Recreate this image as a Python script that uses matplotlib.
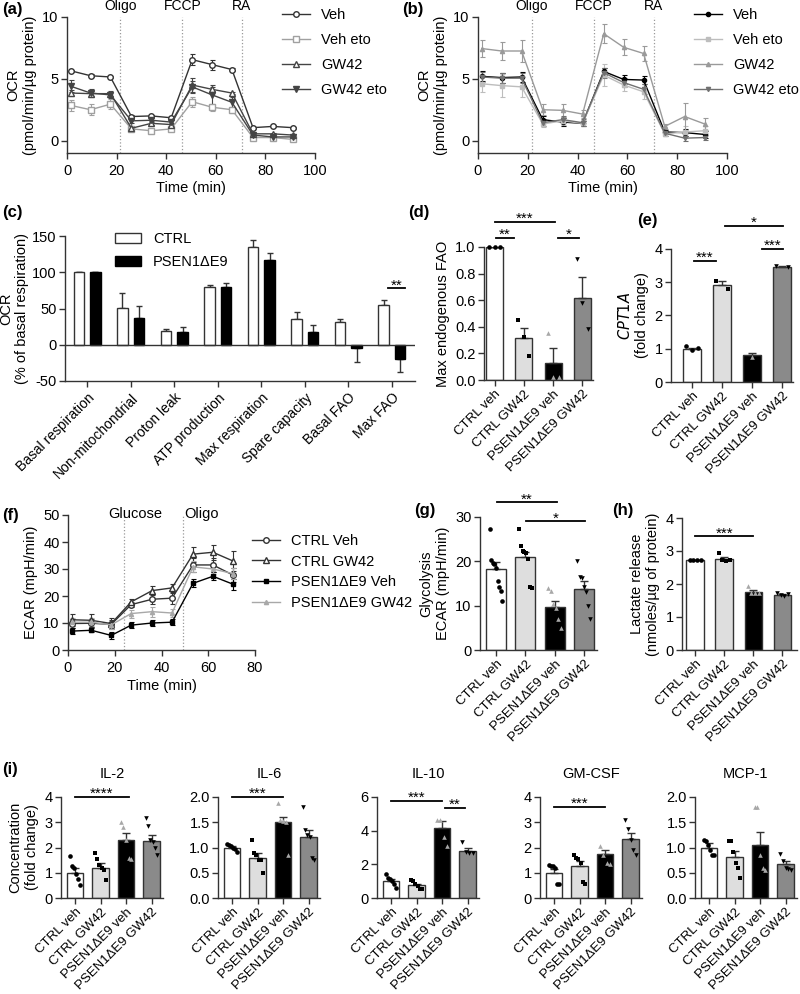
import numpy as np
import matplotlib
matplotlib.use("Agg")
import matplotlib.pyplot as plt
from matplotlib.patches import Patch
from matplotlib.ticker import FormatStrFormatter

plt.rcParams['font.family'] = ['Liberation Sans', 'DejaVu Sans']
plt.rcParams['font.size'] = 10
plt.rcParams['axes.unicode_minus'] = False

# ---------------- data ----------------
# (a) OCR, Seahorse time course
t_ocr = [1.5, 9.5, 17.5, 26, 34, 42, 50.5, 58.5, 66.5, 75, 83, 91]
a_names = ["Veh", "Veh eto", "GW42", "GW42 eto"]
a_mean = [
    [5.65, 5.25, 5.15, 1.95, 2.0, 1.85, 6.55, 6.15, 5.75, 1.05, 1.15, 1.05],
    [2.85, 2.5, 2.95, 0.95, 0.8, 0.95, 3.15, 2.7, 2.5, 0.25, 0.25, 0.1],
    [3.85, 3.8, 3.8, 1.0, 1.4, 1.3, 4.5, 4.15, 3.85, 0.55, 0.55, 0.45],
    [4.4, 3.85, 3.7, 1.6, 1.65, 1.5, 4.35, 3.7, 3.1, 0.45, 0.3, 0.3],
]
a_err = [
    [0.1, 0.1, 0.1, 0.1, 0.1, 0.1, 0.45, 0.4, 0.15, 0.08, 0.08, 0.08],
    [0.45, 0.45, 0.4, 0.1, 0.12, 0.12, 0.4, 0.3, 0.25, 0.08, 0.08, 0.08],
    [0.25, 0.2, 0.2, 0.1, 0.15, 0.15, 0.55, 0.15, 0.1, 0.1, 0.1, 0.1],
    [0.5, 0.3, 0.25, 0.15, 0.15, 0.15, 0.5, 0.8, 0.4, 0.1, 0.1, 0.1],
]
# (b)
b_mean = [
    [5.2, 5.1, 5.15, 1.7, 1.5, 1.4, 5.6, 4.95, 4.9, 0.7, 0.65, 0.5],
    [4.6, 4.45, 4.35, 1.35, 1.6, 1.4, 5.3, 4.5, 3.95, 0.55, 0.7, 0.8],
    [7.45, 7.25, 7.25, 2.5, 2.45, 2.15, 8.65, 7.55, 7.05, 1.15, 1.95, 1.35],
    [5.15, 5.05, 5.05, 1.45, 1.7, 1.45, 5.5, 4.7, 4.15, 0.6, 0.2, 0.25],
]
b_err = [
    [0.4, 0.4, 0.4, 0.3, 0.3, 0.2, 0.3, 0.35, 0.35, 0.2, 0.3, 0.3],
    [0.7, 0.9, 0.8, 0.25, 0.3, 0.25, 0.9, 0.5, 0.6, 0.15, 0.5, 0.4],
    [0.7, 0.75, 0.85, 0.45, 0.55, 0.3, 0.75, 0.65, 0.6, 0.2, 1.1, 0.5],
    [0.4, 0.4, 0.4, 0.3, 0.3, 0.3, 0.4, 0.4, 0.4, 0.2, 0.2, 0.2],
]
ocr_inj = [21.5, 46.5, 70.5]
ocr_inj_lbl = ["Oligo", "FCCP", "RA"]

# (c) OCR parameters
c_cats = ["Basal respiration", "Non-mitochondrial", "Proton leak", "ATP production",
          "Max respiration", "Spare capacity", "Basal FAO", "Max FAO"]
c_ctrl = [100, 51, 19, 80, 135, 35, 31, 55]
c_ctrl_err = [0, 21, 3, 3, 10, 10, 4, 7]
c_psen = [100, 37, 18, 80, 117, 17, -4, -20]
c_psen_err = [0, 16, 6, 5, 10, 10, 20, 18]

groups = ["CTRL veh", "CTRL GW42", "PSEN1ΔE9 veh", "PSEN1ΔE9 GW42"]

# (d) max endogenous FAO
d_mean = [1.0, 0.315, 0.13, 0.62]
d_err = [0.0, 0.075, 0.11, 0.155]
d_pts = [[1.0, 1.0, 1.0], [0.45, 0.32, 0.18], [0.35, 0.02, 0.02], [0.91, 0.58, 0.38]]

# (e) CPT1A
e_mean = [1.0, 2.92, 0.82, 3.47]
e_err = [0.03, 0.12, 0.06, 0.03]
e_pts = [[1.07, 0.95, 1.02], [3.05, 2.8], [0.75], [3.5, 3.46]]

# (f) ECAR time course
t_ecar = [1.5, 10, 18.5, 27, 36, 44.5, 53.5, 62, 70.5]
f_names = ["CTRL Veh", "CTRL GW42", "PSEN1ΔE9 Veh", "PSEN1ΔE9 GW42"]
f_mean = [
    [9.8, 9.9, 9.5, 16.8, 18.8, 19.2, 31.5, 31.5, 27.8],
    [11.2, 11.0, 9.8, 17.8, 22.0, 23.0, 35.5, 36.2, 33.0],
    [7.0, 7.3, 5.4, 9.2, 10.0, 10.3, 24.7, 27.3, 24.4],
    [10.3, 10.3, 9.3, 13.5, 14.2, 13.7, 30.8, 30.0, 28.3],
]
f_err = [
    [1.5, 1.5, 1.5, 1.0, 1.8, 2.0, 2.5, 2.5, 2.5],
    [2.3, 2.3, 2.0, 1.2, 1.8, 1.5, 2.8, 2.8, 3.8],
    [1.0, 0.8, 1.2, 1.0, 1.0, 1.2, 1.5, 1.5, 2.0],
    [1.5, 1.5, 1.5, 1.5, 1.8, 1.5, 2.0, 2.0, 2.0],
]
ecar_inj = [24, 49]

# (g) glycolysis
g_mean = [18.2, 20.9, 9.8, 13.8]
g_err = [1.6, 1.3, 1.2, 1.7]
g_pts = [[27.3, 20.4, 19.7, 19.4, 18.4, 15.5, 14.2, 13.3, 11.0],
         [27.3, 23.5, 22.3, 22.0, 21.8, 20.5, 14.3, 14.0],
         [14.0, 13.3, 10.3, 9.5, 7.0, 5.0],
         [20.0, 16.5, 16.2, 14.3, 13.0, 10.0, 7.0]]

# (h) lactate release
h_mean = [2.73, 2.75, 1.77, 1.68]
h_err = [0.01, 0.07, 0.06, 0.03]
h_pts = [[2.73, 2.73, 2.73, 2.73], [2.95, 2.73, 2.7, 2.72],
         [1.93, 1.73, 1.72, 1.72], [1.72, 1.68, 1.65, 1.7]]

# (i) cytokines
cyto = ["IL-2", "IL-6", "IL-10", "GM-CSF", "MCP-1"]
i_mean = [[1.0, 1.2, 2.3, 2.27], [1.0, 0.8, 1.5, 1.2], [1.0, 0.75, 4.15, 2.78],
          [1.0, 1.25, 1.75, 2.32], [1.0, 0.81, 1.05, 0.67]]
i_err = [[0.17, 0.17, 0.27, 0.22], [0.03, 0.09, 0.11, 0.15], [0.15, 0.1, 0.45, 0.2],
         [0.15, 0.22, 0.15, 0.25], [0.08, 0.12, 0.25, 0.07]]
i_pts = [
    [[1.65, 1.25, 1.2, 0.95, 0.75, 0.52], [1.8, 1.55, 1.3, 1.2, 1.1, 0.7],
     [3.0, 2.8, 2.3, 1.6, 1.55], [3.15, 2.85, 2.3, 2.2, 2.0, 1.7]],
    [[1.07, 1.05, 1.03, 1.0, 0.97, 0.92], [1.15, 0.9, 0.85, 0.75, 0.75, 0.5],
     [1.88, 1.55, 1.52, 1.5, 0.85], [1.8, 1.35, 1.25, 1.2, 0.8, 0.75]],
    [[1.4, 1.2, 1.1, 1.0, 0.85, 0.6], [1.05, 1.0, 0.85, 0.7, 0.55, 0.55],
     [4.65, 4.65, 3.6, 3.1], [3.35, 2.75, 2.7, 2.7]],
    [[1.3, 1.25, 1.25, 1.2, 0.55, 0.55], [1.7, 1.6, 1.55, 1.4, 0.65, 0.55],
     [2.05, 1.7, 1.4, 1.35], [3.1, 2.75, 2.3, 1.9, 1.7]],
    [[1.15, 1.12, 1.05, 0.95, 0.85, 0.85], [1.12, 1.12, 0.92, 0.7, 0.6, 0.4],
     [1.8, 1.8, 0.85, 0.6, 0.55], [0.88, 0.73, 0.6, 0.58, 0.55]],
]
i_ylim = [4, 2.0, 6, 4, 2.0]
i_ticks = [[0, 1, 2, 3, 4], [0, 0.5, 1.0, 1.5, 2.0], [0, 2, 4, 6], [0, 1, 2, 3, 4], [0, 0.5, 1.0, 1.5, 2.0]]
i_sigs = [[(0, 2.1, 4.0, "****")], [(0, 2, 2.0, "***")],
          [(0, 2, 5.78, "***"), (2.1, 2.9, 5.35, "**")], [(0, 2, 3.6, "***")], []]

# ---------------- style ----------------
W, H = 800, 994
fig = plt.figure(figsize=(W / 100, H / 100), dpi=100)
INK = "#333333"
bar_fc = ["white", "#dedede", "black", "#8a8a8a"]
pt_mk = ["o", "s", "^", "v"]
pt_c = ["black", "black", "#a8a8a8", "black"]


def box(l, t, r, b):
    ax = fig.add_axes([l / W, 1 - b / H, (r - l) / W, (b - t) / H])
    ax.spines[["top", "right"]].set_visible(False)
    for s in ["left", "bottom"]:
        ax.spines[s].set_color(INK)
        ax.spines[s].set_linewidth(1)
    ax.tick_params(color=INK, length=4, width=1, labelsize=10.5, pad=2)
    return ax


def panel_label(x, y, s):
    fig.text(x / W, 1 - y / H, s, fontsize=12, fontweight="bold", va="top")


def sig(ax, x1, x2, y, stars):
    ax.plot([x1, x2], [y, y], color="black", lw=1.3, clip_on=False)
    ax.annotate(stars, ((x1 + x2) / 2, y), xytext=(0, -3), textcoords="offset points",
                ha="center", va="bottom", fontsize=11, annotation_clip=False)


def spread(n, w):
    return np.linspace(-w, w, n) if n > 1 else np.zeros(1)


def bar_panel(ax, means, errs, pts, xlim, width, sigs=()):
    x = np.arange(len(means))
    ax.bar(x, means, width, color=bar_fc, edgecolor=INK, linewidth=1, zorder=2)
    ax.errorbar(x, means, yerr=[np.zeros(len(errs)), errs], fmt="none", ecolor=INK,
                elinewidth=1, capsize=3, capthick=1, zorder=3)
    for i, vals in enumerate(pts):
        ax.scatter(i + spread(len(vals), width * 0.32), vals, marker=pt_mk[i], s=11,
                   color=pt_c[i], zorder=4, clip_on=False, linewidths=0)
    ax.set_xlim(*xlim)
    ax.set_xticks(x)
    ax.set_xticklabels(groups, rotation=45, ha="right", rotation_mode="anchor", fontsize=9.5)
    ax.tick_params(axis="x", pad=2)
    for x1, x2, y, s in sigs:
        sig(ax, x1, x2, y, s)


def time_panel(ax, t, means, errs, styles):
    hs = []
    for m, e, (mk, c, mfc, ms) in zip(means, errs, styles):
        h = ax.errorbar(t, m, yerr=e, marker=mk, color=c, mfc=mfc, mec=c, ms=ms, lw=1,
                        elinewidth=0.8, capsize=1.8, capthick=0.8)
        hs.append(h[0])  # line + marker only, for the legend
    ax.tick_params(axis="x", pad=4)
    return hs


def time_legend(ax, hs, names, x, y, spacing):
    ax.legend(hs, names, loc="upper left", bbox_to_anchor=(x / W, 1 - y / H),
              bbox_transform=fig.transFigure, frameon=False, fontsize=10.5,
              labelspacing=spacing, handlelength=1.9, borderpad=0, borderaxespad=0)


# (a)
ax = box(67, 17, 315, 153)
a_sty = [("o", "#333333", "white", 4), ("s", "#a0a0a0", "white", 4),
         ("^", "#444444", "white", 4), ("v", "#444444", "#444444", 4)]
hs = time_panel(ax, t_ocr, a_mean, a_err, a_sty)
for x, s in zip(ocr_inj, ocr_inj_lbl):
    ax.axvline(x, ls=":", color="#999999", lw=0.9)
    ax.text(x, 10.55, s, ha="center", va="baseline", fontsize=10)
ax.set_xlim(0, 100)
ax.set_ylim(-1, 10)
ax.set_yticks([0, 5, 10])
ax.set_xlabel("Time (min)", fontsize=10.5, labelpad=2)
ax.set_ylabel("OCR\n(pmol/min/µg protein)", fontsize=10.5)
time_legend(ax, hs, a_names, 282, 8, 0.75)
panel_label(2, 2, "(a)")

# (b)
ax = box(478, 17, 727, 153)
b_sty = [("o", "black", "black", 3), ("s", "#bdbdbd", "#bdbdbd", 3),
         ("^", "#9a9a9a", "#9a9a9a", 3), ("v", "#707070", "#707070", 3)]
hs = time_panel(ax, t_ocr, b_mean, b_err, b_sty)
for x, s in zip(ocr_inj, ocr_inj_lbl):
    ax.axvline(x, ls=":", color="#999999", lw=0.9)
    ax.text(x, 10.55, s, ha="center", va="baseline", fontsize=10)
ax.set_xlim(0, 100)
ax.set_ylim(-1, 10)
ax.set_yticks([0, 5, 10])
ax.set_xlabel("Time (min)", fontsize=10.5, labelpad=2)
ax.set_ylabel("OCR\n(pmol/min/µg protein)", fontsize=10.5)
time_legend(ax, hs, a_names, 694, 8, 0.75)
panel_label(402, 2, "(b)")

# (c)
ax = box(65, 236, 415, 381)
xc = np.arange(len(c_cats))
ax.bar(xc - 0.19, c_ctrl, 0.24, color="white", edgecolor=INK, lw=1, zorder=2)
ax.bar(xc + 0.19, c_psen, 0.24, color="black", edgecolor="black", lw=1, zorder=2)
ax.errorbar(xc - 0.19, c_ctrl, yerr=[np.zeros(8), c_ctrl_err], fmt="none", ecolor=INK,
            elinewidth=1, capsize=2.5, zorder=1)
pn = np.array(c_psen)
pe = np.array(c_psen_err)
ax.errorbar(xc + 0.19, c_psen, yerr=[np.where(pn < 0, pe, 0), np.where(pn >= 0, pe, 0)],
            fmt="none", ecolor=INK, elinewidth=1, capsize=2.5, zorder=1)
ax.axhline(0, color=INK, lw=1, zorder=3)
ax.set_xlim(-0.51, 7.53)
ax.set_ylim(-50, 150)
ax.set_yticks([-50, 0, 50, 100, 150])
ax.set_xticks(xc)
ax.set_xticklabels(c_cats, rotation=45, ha="right", rotation_mode="anchor", fontsize=10)
ax.tick_params(axis="x", pad=3)
ax.set_ylabel("OCR\n(% of basal respiration)", fontsize=10.5, labelpad=2)
sig(ax, 6.9, 7.3, 78, "**")
ax.legend([Patch(fc="white", ec=INK), Patch(fc="black", ec="black")], ["CTRL", "PSEN1ΔE9"],
          loc="upper left", bbox_to_anchor=(115 / W, 1 - 232 / H), bbox_transform=fig.transFigure,
          frameon=False, fontsize=10.5, handlelength=1.8, handleheight=0.7, labelspacing=0.6,
          borderpad=0, borderaxespad=0)
panel_label(2, 205, "(c)")

# (d)
ax = box(484, 247, 593, 380)
bar_panel(ax, d_mean, d_err, d_pts, (-0.36, 3.36), 0.58,
          [(0.05, 0.65, 1.07, "**"), (0.03, 2.05, 1.19, "***"), (2.17, 2.88, 1.07, "*")])
ax.set_ylim(0, 1.0)
ax.set_yticks([0, 0.2, 0.4, 0.6, 0.8, 1.0])
ax.yaxis.set_major_formatter(FormatStrFormatter("%.1f"))
ax.set_ylabel("Max endogenous FAO", fontsize=10.5)
panel_label(408, 205, "(d)")

# (e)
ax = box(671, 249, 793, 382)
bar_panel(ax, e_mean, e_err, e_pts, (-0.7, 3.37), 0.6,
          [(0.07, 0.8, 3.64, "***"), (2.33, 3.03, 4.0, "***"), (1.1, 3.03, 4.7, "*")])
ax.set_ylim(0, 4)
ax.set_yticks([0, 1, 2, 3, 4])
ax.set_ylabel("$\\it{CPT1A}$\n(fold change)", fontsize=10.5)
panel_label(637, 213, "(e)")

# (f)
ax = box(68, 515, 255, 650)
f_sty = [("o", "#333333", "white", 4), ("^", "#333333", "white", 4),
         ("s", "black", "black", 3.5), ("^", "#a8a8a8", "#a8a8a8", 3)]
hs = time_panel(ax, t_ecar, f_mean, f_err, f_sty)
for x in ecar_inj:
    ax.axvline(x, ls=":", color="#999999", lw=0.9)
ax.text(28.6, 50.5, "Glucose", ha="center", va="center", fontsize=10.5)
ax.text(57, 50.5, "Oligo", ha="center", va="center", fontsize=10.5)
ax.set_xlim(0, 80)
ax.set_ylim(0, 50)
ax.set_yticks([0, 10, 20, 30, 40, 50])
ax.set_xlabel("Time (min)", fontsize=10.5, labelpad=3)
ax.set_ylabel("ECAR (mpH/min)", fontsize=10.5)
time_legend(ax, hs, f_names, 252, 534, 0.45)
panel_label(2, 508, "(f)")

# (g)
ax = box(480, 517, 597, 650)
bar_panel(ax, g_mean, g_err, g_pts, (-0.55, 3.45), 0.68,
          [(0.03, 2.07, 33.3, "**"), (1.03, 3.04, 29, "*")])
ax.set_ylim(0, 30)
ax.set_yticks([0, 10, 20, 30])
ax.set_ylabel("Glycolysis\nECAR (mpH/min)", fontsize=10.5)
panel_label(414, 503, "(g)")

# (h)
ax = box(682, 518, 797, 650)
bar_panel(ax, h_mean, h_err, h_pts, (-0.45, 3.5), 0.6, [(0, 2, 3.45, "***")])
ax.set_ylim(0, 4)
ax.set_yticks([0, 1, 2, 3, 4])
ax.set_ylabel("Lactate release\n(nmoles/µg of protein)", fontsize=10.5)
panel_label(612, 503, "(h)")

# (i)
i_left = [61, 218, 377, 540, 695]
for k, name in enumerate(cyto):
    ax = box(i_left[k], 797, i_left[k] + 102, 898)
    bar_panel(ax, i_mean[k], i_err[k], i_pts[k], (-0.55, 3.45), 0.66, i_sigs[k])
    ax.set_ylim(0, i_ylim[k])
    ax.set_yticks(i_ticks[k])
    if i_ylim[k] == 2.0:
        ax.yaxis.set_major_formatter(FormatStrFormatter("%.1f"))
    ax.set_title(name, fontsize=10.5, pad=14)
    if k == 0:
        ax.set_ylabel("Concentration\n(fold change)", fontsize=10.5)
panel_label(2, 762, "(i)")

fig.savefig("out.png", dpi=100)
